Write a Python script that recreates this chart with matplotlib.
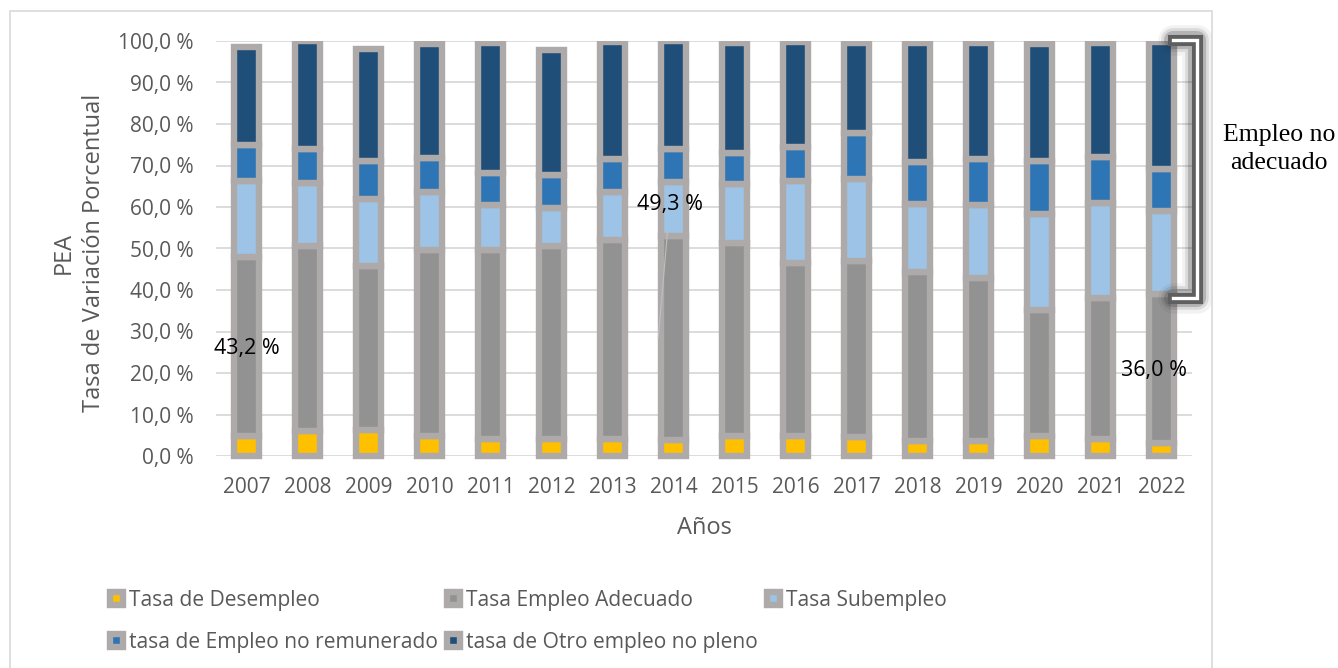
import matplotlib
matplotlib.use("Agg")
import matplotlib.pyplot as plt
from matplotlib.patches import Patch, Rectangle
import numpy as np

years = ["2007", "2008", "2009", "2010", "2011", "2012", "2013", "2014",
         "2015", "2016", "2017", "2018", "2019", "2020", "2021", "2022"]
desempleo = [4.8, 6.0, 6.3, 4.9, 4.1, 4.1, 4.1, 3.8, 4.8, 4.9, 4.5, 3.7, 3.7, 4.8, 4.1, 3.1]
adecuado = [43.2, 44.6, 39.4, 44.7, 45.5, 46.5, 47.9, 49.3, 46.5, 41.5, 42.4, 40.6, 39.1, 30.5, 33.9, 36.0]
subempleo = [18.3, 15.1, 16.2, 13.9, 10.9, 9.2, 11.7, 12.9, 14.2, 19.8, 19.9, 16.5, 17.8, 22.9, 23.0, 19.9]
no_remunerado = [8.7, 8.3, 9.1, 8.2, 7.6, 7.9, 7.8, 7.9, 7.5, 8.3, 11.0, 10.0, 10.9, 12.8, 11.0, 10.2]
otro_no_pleno = [23.6, 25.9, 27.1, 27.5, 31.5, 30.2, 28.3, 26.1, 26.4, 25.2, 21.8, 28.8, 27.9, 28.2, 27.6, 30.5]

series_names = ["Tasa de Desempleo", "Tasa Empleo Adecuado", "Tasa Subempleo",
                "tasa de Empleo no remunerado", "tasa de Otro empleo no pleno"]
series = [desempleo, adecuado, subempleo, no_remunerado, otro_no_pleno]
colors = ["#FFC000", "#929292", "#9DC3E6", "#2E75B6", "#1F4E79"]
edge = "#AEAAAA"
txt_gray = "#595959"

plt.rcParams['font.family'] = ['Open Sans', 'DejaVu Sans']
fs = 15

fig = plt.figure(figsize=(13.38, 6.68), dpi=100)
W, H = 1338, 668
ax = fig.add_axes([216 / W, 1 - 456 / H, (1192 - 216) / W, (456 - 41) / H])

# outer chart frame
fig.add_artist(Rectangle((10 / W, -0.1), (1212 - 10) / W, 1.1 - 11 / H,
                         transform=fig.transFigure, fill=False,
                         edgecolor="#D9D9D9", linewidth=1.2))

# bars are cut at the 100 % line but not at the bottom
clip = Rectangle((-0.05, -0.05), 1.1, 1.05, transform=ax.transAxes,
                 visible=False)
ax.add_patch(clip)

x = np.arange(len(years))
bottom = np.zeros(len(years))
for vals, c in zip(series, colors):
    bars = ax.bar(x, vals, width=0.40, bottom=bottom, color=c, edgecolor=edge,
                  linewidth=4.6, zorder=3)
    for b in bars:
        b.set_clip_path(clip)
    bottom += np.array(vals)

ax.set_xlim(-0.5, len(years) - 0.5)
ax.set_ylim(0, 100)
ax.set_yticks(np.arange(0, 101, 10))
ax.set_yticklabels([f"{v:.1f}".replace(".", ",") + " %" for v in range(0, 101, 10)])
ax.set_xticks(x)
ax.set_xticklabels(years)
ax.tick_params(length=0, labelsize=fs, labelcolor=txt_gray)
ax.tick_params(axis="y", pad=16)
ax.tick_params(axis="x", pad=15)
ax.yaxis.grid(True, color="#D9D9D9", linewidth=1.3, zorder=0)
ax.set_axisbelow(True)
for s in ax.spines.values():
    s.set_visible(False)

ax.set_xlabel("Años", fontsize=17, color=txt_gray)
ax.xaxis.set_label_coords(0.5, -(516 - 456) / 415)
ax.set_ylabel("PEA\nTasa de Variación Porcentual", fontsize=17, color=txt_gray,
              linespacing=1.35)
ax.yaxis.set_label_coords((106 - 216) / 976, 0.49)

# data labels on the adequate employment segment
ax.text(0, desempleo[0] + adecuado[0] / 2 - 0.5, "43,2 %", ha="center", va="center",
        fontsize=15.5, color="black", zorder=5)
ax.text(15 - 0.13, desempleo[15] + adecuado[15] / 2 - 0.5, "36,0 %", ha="center",
        va="center", fontsize=15.5, color="black", zorder=5)
ax.annotate("49,3 %", xy=(7 - 0.25, 28.4), xytext=(7 - 0.06, 60.5), ha="center",
            va="center", fontsize=15.5, color="black", zorder=5,
            arrowprops=dict(arrowstyle="-", color="#BFBFBF", linewidth=0.8,
                            shrinkA=9, shrinkB=0))

# bracket for "Empleo no adecuado"
bx = [(1173 - 246.5) / 61, (1197 - 246.5) / 61, (1197 - 246.5) / 61, (1173 - 246.5) / 61]
by = [100.3, 100.3, 38.1, 38.1]
for lw, a in [(22, 0.06), (17, 0.12), (13, 0.22)]:
    ax.plot(bx, by, color="#303030", linewidth=lw, alpha=a, clip_on=False,
            solid_joinstyle="round", solid_capstyle="round", zorder=6)
ax.plot(bx, by, color="#5F5F5F", linewidth=8, clip_on=False,
        solid_joinstyle="miter", zorder=7)
ax.plot(bx, by, color="white", linewidth=2.4, clip_on=False,
        solid_joinstyle="miter", zorder=8)
fig.text(1279 / W, 1 - 149 / H, "Empleo no\nadecuado", ha="center", va="center",
         fontsize=18.5, family="Liberation Serif", color="black", linespacing=1.35)

handles = [Patch(facecolor=c, edgecolor=edge, linewidth=4.6) for c in colors]
order = [0, 3, 1, 4, 2]
fig.legend([handles[i] for i in order], [series_names[i] for i in order],
           loc="upper left", bbox_to_anchor=(110 / W, 1 - 590 / H), ncol=3,
           frameon=False, fontsize=15.1, labelcolor=txt_gray, handlelength=0.6,
           handleheight=0.6, handletextpad=0.3, columnspacing=0.45,
           labelspacing=1.0, borderpad=0, borderaxespad=0)

fig.savefig("out.png", dpi=100)
